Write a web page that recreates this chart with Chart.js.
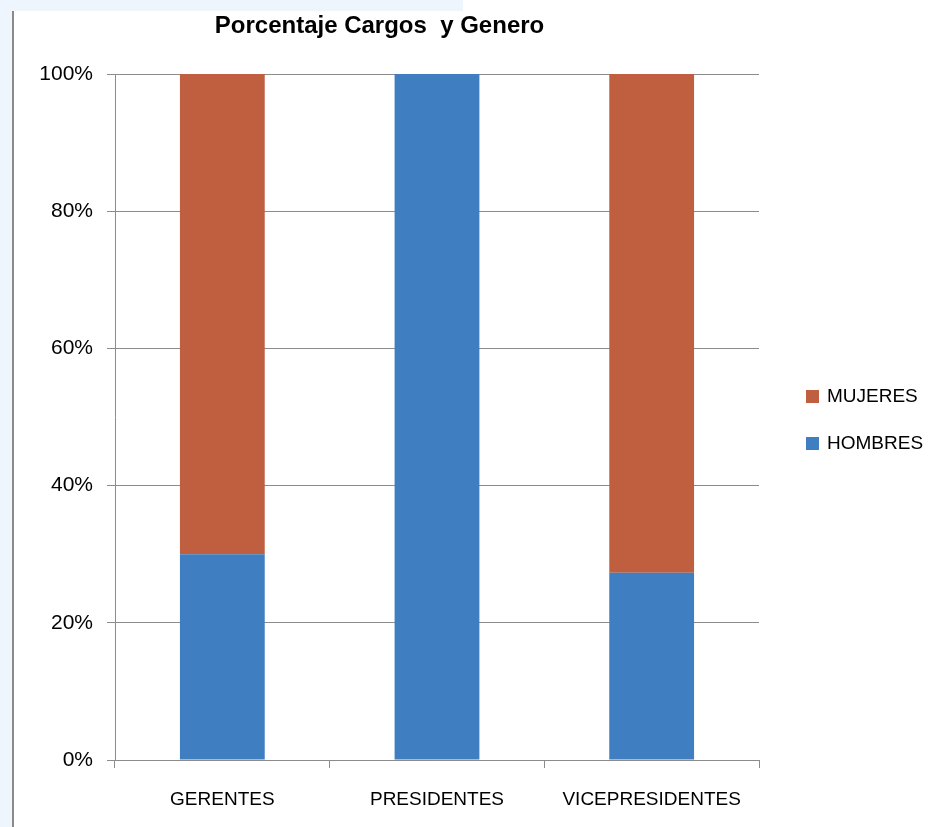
<!DOCTYPE html>
<html lang="es">
<head>
  <meta charset="UTF-8" />
  <title>Porcentaje Cargos y Genero</title>
  <script src="https://cdn.jsdelivr.net/npm/chart.js"></script>
  <style>
    body {
      margin: 0;
      padding: 0;
      background: #eef5fc;
      font-family: "Liberation Sans", Arial, sans-serif;
    }
    #wrap {
      position: relative;
      width: 940px;
      height: 827px;
    }
    .legend-item {
      position: absolute;
      left: 806px;
      font-size: 19px;
      color: #000;
      line-height: 20px;
    }
    .legend-item span {
      display: inline-block;
      width: 13px;
      height: 13px;
      margin-right: 8px;
      vertical-align: -1px;
    }
  </style>
</head>
<body>

<div id="wrap">
  <canvas id="chart" width="940" height="827"></canvas>
  <div class="legend-item" style="top:386px;"><span style="background:#c05f3f;"></span>MUJERES</div>
  <div class="legend-item" style="top:433px;"><span style="background:#3e7ec1;"></span>HOMBRES</div>
</div>

<script>
  // datos del grafico
  const cargos = ['GERENTES', 'PRESIDENTES', 'VICEPRESIDENTES'];
  const hombres = [30, 100, 27.3];
  const mujeres = [70, 0, 72.7];
  const yTicks = [0, 20, 40, 60, 80, 100];

  const colorHombres = '#3e7ec1';
  const colorMujeres = '#c05f3f';
  const gris = '#8c8c8c';

  // fondo y marco como en la captura
  const fondo = {
    id: 'fondo',
    beforeDraw(chart) {
      const c = chart.ctx;
      c.save();
      c.fillStyle = '#eef5fc';
      c.fillRect(0, 0, chart.width, chart.height);
      c.fillStyle = '#ffffff';
      c.fillRect(14, 11, chart.width - 14, chart.height - 11);
      c.fillRect(463, 0, chart.width - 463, 11);
      c.fillStyle = '#8a8a8a';
      c.fillRect(12, 11, 2, chart.height - 11);
      c.restore();
    }
  };

  const ctx = document.getElementById('chart').getContext('2d');
  const grafico = new Chart(ctx, {
    type: 'bar',
    data: {
      labels: cargos,
      datasets: [
        {
          label: 'HOMBRES',
          data: hombres,
          backgroundColor: colorHombres,
          categoryPercentage: 1,
          barPercentage: 0.395
        },
        {
          label: 'MUJERES',
          data: mujeres,
          backgroundColor: colorMujeres,
          categoryPercentage: 1,
          barPercentage: 0.395
        }
      ]
    },
    options: {
      responsive: false,
      animation: false,
      layout: {
        padding: { left: 0, right: 181, top: 11, bottom: 0 }
      },
      plugins: {
        legend: { display: false },
        tooltip: { enabled: false },
        title: {
          display: true,
          text: 'Porcentaje Cargos  y Genero',
          color: '#000',
          font: { family: '"Liberation Sans", Arial, sans-serif', size: 24, weight: 'bold' },
          padding: { top: 1, bottom: 33.2 }
        }
      },
      scales: {
        x: {
          stacked: true,
          afterFit(scale) { scale.height = 67; },
          grid: {
            drawOnChartArea: false,
            drawTicks: true,
            tickLength: 8,
            color: gris
          },
          border: { color: gris, width: 1 },
          ticks: {
            color: '#000',
            padding: 20,
            font: { family: '"Liberation Sans", Arial, sans-serif', size: 19 }
          }
        },
        y: {
          stacked: true,
          min: 0,
          max: 100,
          afterFit(scale) { scale.width = 115; },
          afterBuildTicks(scale) {
            scale.ticks = yTicks.map(v => ({ value: v }));
          },
          grid: {
            color: gris,
            tickLength: 8
          },
          border: { color: gris, width: 1 },
          ticks: {
            color: '#000',
            padding: 14,
            font: { family: '"Liberation Sans", Arial, sans-serif', size: 21 },
            callback: v => v + '%'
          }
        }
      }
    },
    plugins: [fondo]
  });
</script>

</body>
</html>
